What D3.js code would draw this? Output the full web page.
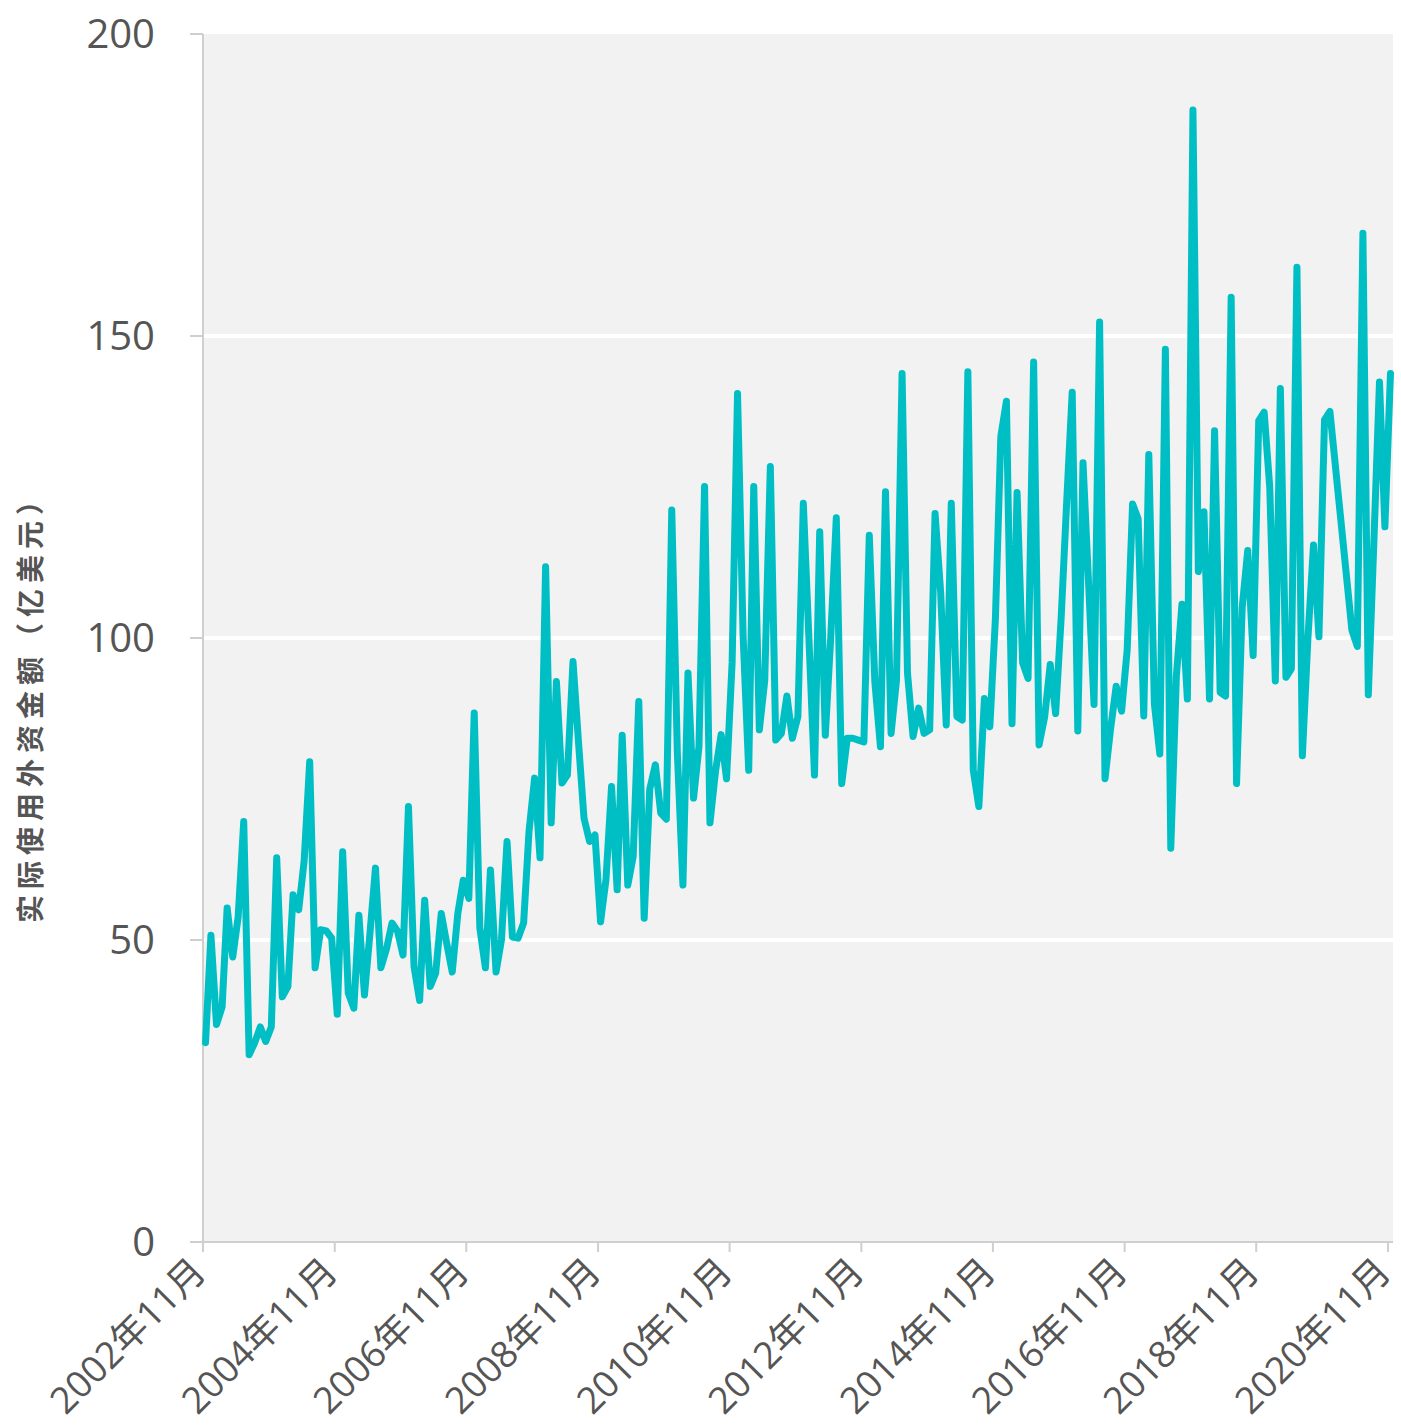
<!DOCTYPE html>
<html><head><meta charset="utf-8">
<script src="https://cdn.jsdelivr.net/npm/d3@7/dist/d3.min.js"></script>
<style>
body{margin:0;background:#fff;}
text{font-family:"Open Sans","Noto Sans CJK SC",sans-serif;}
</style></head><body>
<svg id="c" width="1401" height="1427"></svg>
<script>
// first month of the series (year, month 1-12)
const startYear = 2002, startMonth = 11;
// monthly values (亿美元); null = no data point in the chart
const values2002 = [33.0, 50.8];
const values2003 = [36.0, 38.9, 55.3, 47.2, 53.8, 69.6, 31.0, 33.0, 35.6, 33.2, 35.6, 63.6];
const values2004 = [40.6, 42.3, 57.5, 55.0, 63.0, 79.5, 45.4, 51.7, 51.5, 50.3, 37.7, 64.6];
const values2005 = [41.2, 38.7, 54.1, 40.9, 51.0, 61.9, 45.4, 48.5, 52.8, 51.5, 47.5, 72.1];
const values2006 = [45.6, 40.0, 56.6, 42.3, 44.5, 54.4, 49.5, 44.7, 54.4, 59.9, 56.9, 87.6];
const values2007 = [52.0, 45.4, 61.6, 44.7, 50.0, 66.3, 50.5, 50.3, 52.8, 68.0, 76.8, 63.6];
const values2008 = [111.8, 69.4, 92.8, 76.0, 77.3, 96.1, 83.0, 70.2, 66.3, 67.4, 53.0, 60.0];
const values2009 = [75.4, 58.3, 83.9, 59.1, 63.8, 89.5, 53.6, 75.0, 79.0, 71.0, 70.0, 121.2];
const values2010 = [81.0, 59.1, 94.2, 73.5, 82.0, 125.1, 69.4, 78.0, 84.0, 76.7, 96.0, 140.5];
const values2011 = [100.3, 78.1, 125.1, 84.8, 93.0, 128.4, 83.1, 84.2, 90.4, 83.4, 87.0, 122.3];
const values2012 = [100.0, 77.3, 117.6, 83.9, 100.0, 119.9, 75.9, 83.4, 83.4, 83.1, 82.8, 117.0];
const values2013 = [92.7, 82.0, 124.2, 84.2, 93.0, 143.8, 94.2, 83.7, 88.4, 84.2, 84.8, 120.6];
const values2014 = [107.6, 85.6, 122.3, 87.0, 86.4, 144.1, 78.1, 72.1, 90.0, 85.3, 103.3, 133.4];
const values2015 = [139.2, 85.8, 124.1, 95.9, 93.3, 145.7, 82.3, 86.9, 95.6, 87.5, 103.5, 122.3];
const values2016 = [140.7, 84.6, 129.0, 109.0, 89.0, 152.3, 76.7, 85.0, 92.0, 87.9, 98.0, 122.2];
const values2017 = [119.7, 87.1, 130.4, 89.1, 80.8, 147.8, 65.2, 93.7, 105.6, 89.9, 187.4, 111.0];
const values2018 = [120.9, 89.9, 134.3, 91.0, 90.4, 156.4, 75.9, 105.0, 114.5, 97.1, 136.0, 137.4];
const values2019 = [125.0, 92.9, 141.3, 93.5, 94.9, 161.4, 80.5, 100.0, 115.4, 100.2, 136.1, 137.5];
const values2020 = [null, null, null, 101.3, 98.6, 167.0, 90.6, 116.0, 142.4, 118.4, 143.8];

const yTicks = [0, 50, 100, 150, 200];
const xTickYears = [2002, 2004, 2006, 2008, 2010, 2012, 2014, 2016, 2018, 2020];
const xTickMonth = 11;
const yTitle = "实际使用外资金额（亿美元）";

const values = [].concat(values2002, values2003, values2004, values2005, values2006,
  values2007, values2008, values2009, values2010, values2011, values2012, values2013,
  values2014, values2015, values2016, values2017, values2018, values2019, values2020);

const data = values.map((v, i) => ({date: new Date(startYear, startMonth - 1 + i, 15), value: v}))
  .filter(d => d.value !== null);

const svg = d3.select("#c");
const M = {left: 203, right: 1393, top: 34, bottom: 1242};

const x = d3.scaleTime()
  .domain([new Date(2002, 10, 1), new Date(2020, 10, 29)])
  .range([M.left, M.right]);
const y = d3.scaleLinear().domain([0, 200]).range([M.bottom, M.top]);

// plot background
svg.append("rect").attr("x", M.left).attr("y", M.top)
  .attr("width", M.right - M.left).attr("height", M.bottom - M.top).attr("fill", "#f2f2f2");

// gridlines
svg.append("g").selectAll("line").data(yTicks.filter(t => t > 0 && t < 200)).join("line")
  .attr("x1", M.left).attr("x2", M.right)
  .attr("y1", d => y(d)).attr("y2", d => y(d))
  .attr("stroke", "#fff").attr("stroke-width", 4);

// axes lines
const axisColor = "#cfcfcf";
svg.append("line").attr("x1", M.left).attr("x2", M.left).attr("y1", M.top).attr("y2", M.bottom)
  .attr("stroke", axisColor).attr("stroke-width", 2);
svg.append("line").attr("x1", M.left).attr("x2", M.right).attr("y1", M.bottom).attr("y2", M.bottom)
  .attr("stroke", axisColor).attr("stroke-width", 2);

// y ticks + labels
const yg = svg.append("g");
yg.selectAll("line").data(yTicks).join("line")
  .attr("x1", M.left - 13).attr("x2", M.left)
  .attr("y1", d => y(d)).attr("y2", d => y(d))
  .attr("stroke", axisColor).attr("stroke-width", 2);
yg.selectAll("text").data(yTicks).join("text")
  .attr("x", 155).attr("y", d => y(d)).attr("dy", "0.35em")
  .attr("text-anchor", "end").attr("font-size", 40).attr("fill", "#555")
  .text(d => d);

// x ticks + labels
const xTicks = xTickYears.map(yr => new Date(yr, xTickMonth - 1, 1));
const fmt = d3.timeFormat("%Y年%m月");
const xg = svg.append("g");
xg.selectAll("line").data(xTicks).join("line")
  .attr("x1", d => x(d)).attr("x2", d => x(d))
  .attr("y1", M.bottom).attr("y2", M.bottom + 10)
  .attr("stroke", axisColor).attr("stroke-width", 2);
xg.selectAll("text").data(xTicks).join("text")
  .attr("transform", d => `translate(${x(d) - 3},${M.bottom + 24}) rotate(-45)`)
  .attr("text-anchor", "end").attr("dy", "0.3em")
  .attr("font-size", 37).attr("fill", "#555")
  .text(d => fmt(d));

// y title
svg.append("text")
  .attr("transform", `translate(31,702) rotate(-90)`)
  .attr("text-anchor", "middle").attr("dy", "0.35em")
  .attr("font-size", 28).attr("font-weight", "bold").attr("fill", "#555")
  .attr("letter-spacing", 6)
  .text(yTitle);

// line
const line = d3.line().x(d => x(d.date)).y(d => y(d.value));
svg.append("path").datum(data).attr("d", line)
  .attr("fill", "none").attr("stroke", "#00bfc4").attr("stroke-width", 7)
  .attr("stroke-linejoin", "round").attr("stroke-linecap", "round");
</script>
</body></html>
